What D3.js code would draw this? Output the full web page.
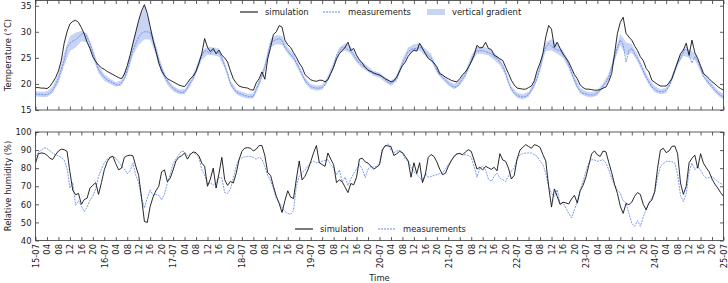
<!DOCTYPE html>
<meta charset="utf-8">
<script src="https://d3js.org/d3.v7.min.js"></script>
<style>
  body { margin: 0; background: #fff; }
  text { font-family: "DejaVu Sans", sans-serif; }
</style>
<div id="chart"></div>
<script>

// tick labels
var dayLabels = ["15-07","16-07","17-07","18-07","19-07","20-07","21-07","22-07","23-07","24-07","25-07"];
var hourLabels = ["04","08","12","16","20"];

// hourly values from 15-07 00:00 to 25-07 00:00
var simTemp = [
  19.3,19.3,19.2,19.2,19.1,19.5, 20.3,21.2,22.5,24.5,27.8,30.0, 31.5,32.0,32.2,31.8,30.8,29.6, 28.0,26.8,25.2,24.3,23.6,23.1,
  22.8,22.4,22.1,21.8,21.5,21.2, 21.0,21.9,23.5,25.5,27.8,30.0, 32.2,34.0,35.2,33.5,31.0,28.4, 26.3,24.0,22.5,21.6,21.0,20.7,
  20.4,20.1,19.8,19.6,19.5,20.2, 21.0,21.5,22.4,24.0,25.8,28.7, 27.0,26.2,26.8,25.8,26.5,25.5, 25.0,24.2,22.5,21.0,20.2,19.6,
  19.4,19.3,19.2,18.9,18.8,20.2, 21.0,22.3,20.9,24.8,27.0,29.5, 30.0,31.2,30.9,28.4,27.5,27.0, 26.0,25.1,24.0,23.2,21.8,21.3,
  20.8,20.6,20.5,20.7,20.7,20.4, 20.8,22.0,23.2,24.8,25.8,26.4, 27.0,28.0,26.4,26.8,25.5,24.6, 24.0,23.2,22.6,22.4,22.1,21.9,
  21.7,21.4,21.0,20.7,20.4,20.6, 21.3,22.5,23.5,24.2,25.3,26.0, 26.5,26.3,27.8,26.8,25.8,24.9, 24.5,24.0,23.3,22.0,21.7,21.3,
  21.0,20.7,20.5,20.4,21.0,21.8, 22.3,23.2,24.2,25.5,27.4,26.9, 27.0,28.0,26.8,26.6,25.5,25.2, 24.8,24.5,23.2,22.0,20.7,19.8,
  19.2,19.1,19.0,19.0,19.3,19.6, 20.6,22.6,24.0,25.8,29.0,31.2, 30.5,27.0,28.0,26.8,25.8,25.0, 24.2,23.0,21.8,21.0,19.8,19.3,
  19.0,19.0,18.9,18.8,18.8,18.9, 19.2,19.4,20.5,22.0,25.8,29.7, 31.8,32.8,29.7,29.0,28.4,27.3, 26.4,25.2,24.5,23.0,22.3,20.7,
  20.3,19.9,19.6,19.6,19.6,20.2, 21.0,22.6,24.2,25.8,26.5,27.8, 25.5,28.4,26.0,24.9,23.5,22.0, 21.5,21.0,20.4,20.0,19.5,19.1,
  18.8
];
var measTemp = [
  18.1,18.0,18.0,17.9,18.0,18.2, 18.8,19.8,21.0,22.8,24.5,27.0, 27.8,28.2,28.5,29.0,29.5,29.8, 29.0,27.8,26.0,24.2,22.8,22.0,
  21.3,20.8,20.5,20.2,19.9,19.7, 20.2,21.0,22.5,24.5,26.5,27.8, 29.0,29.7,30.0,30.0,29.8,28.4, 26.5,24.5,23.0,21.5,20.5,19.8,
  19.2,18.8,18.5,18.3,18.5,19.2, 20.2,21.0,22.5,24.0,25.4,26.4, 26.2,25.8,26.5,25.8,26.0,25.0, 23.5,22.0,20.1,19.2,18.5,18.2,
  18.0,17.8,17.6,17.5,17.6,19.0, 20.1,21.5,23.2,25.5,27.8,28.3, 28.5,28.7,28.3,27.0,26.3,25.6, 25.1,24.0,23.0,21.8,20.7,20.0,
  19.5,19.3,19.2,19.2,19.3,19.8, 21.0,22.0,23.5,25.5,26.4,27.0, 27.0,26.5,26.4,25.5,24.6,24.0, 23.5,23.2,22.8,22.3,22.0,21.8,
  21.7,21.3,20.8,20.3,20.1,20.5, 21.0,22.2,24.0,25.0,26.2,26.6, 26.8,26.8,27.0,26.8,26.0,25.5, 25.0,24.0,22.6,21.8,21.3,20.7,
  20.2,19.7,19.4,19.4,20.2,21.0, 21.8,23.0,24.5,25.8,26.4,26.3, 26.4,26.2,26.0,25.8,25.2,24.9, 24.2,23.6,22.0,20.1,19.0,18.2,
  17.8,17.6,17.5,17.6,18.0,18.8, 19.8,21.0,23.0,25.8,27.0,27.8, 27.2,26.8,26.5,26.4,25.6,24.8, 23.6,22.0,20.8,19.4,18.6,18.2,
  18.1,17.9,17.9,17.9,18.3,18.8, 19.6,20.3,21.3,23.2,25.1,27.0, 28.4,27.5,24.2,26.4,26.8,25.8, 24.9,23.8,22.5,21.3,20.4,19.4,
  19.0,18.6,18.5,18.5,18.8,19.5, 21.0,22.6,24.0,24.9,26.0,27.0, 25.5,24.0,25.2,24.5,23.0,21.3, 20.8,20.1,19.5,18.8,18.3,17.8,
  17.5
];
// vertical gradient envelope, every 2 hours
var gradLow = [
  17.6,17.5,17.5,18.3,20.2,23.5,26.3,27.0,28.2,28.0,25.0,22.0,
  20.6,20.0,19.5,19.7,21.8,25.5,27.5,28.5,28.5,25.5,22.0,19.8,
  18.6,18.0,18.0,19.6,21.8,24.6,25.6,25.5,25.2,23.0,19.6,18.0,
  17.5,17.2,17.2,19.5,22.6,27.0,27.6,27.5,25.8,24.5,22.4,20.2,
  19.0,18.7,18.9,20.5,23.0,25.8,26.4,25.8,24.1,23.0,22.3,21.5,
  21.2,20.3,19.6,20.5,23.4,25.7,26.2,26.4,25.4,24.4,22.1,20.8,
  19.7,19.0,19.7,21.3,24.0,25.8,25.8,25.5,24.6,23.6,21.5,18.6,
  17.3,17.0,17.5,19.3,22.4,26.3,26.4,25.8,25.0,23.0,20.2,18.1,
  17.6,17.4,17.8,19.1,20.7,24.4,27.4,25.5,26.0,24.3,21.9,19.8,
  18.4,18.0,18.2,20.4,23.4,25.4,25.0,24.6,22.4,20.3,19.0,17.8,
  17.0
];
var gradHigh = [
  18.6,18.5,18.6,19.5,22.0,26.0,29.2,29.8,30.2,29.6,26.8,23.5,
  21.8,21.0,20.3,20.7,23.5,28.0,32.2,35.0,31.0,27.5,23.6,21.0,
  19.6,19.0,19.0,20.8,23.2,26.2,27.2,27.0,26.8,24.2,20.6,19.0,
  18.5,18.1,18.2,20.8,24.0,28.6,29.4,29.2,27.0,25.8,23.6,21.2,
  20.0,19.7,19.8,21.6,24.2,27.0,27.8,27.2,25.3,24.2,23.4,22.5,
  22.2,21.3,20.6,21.6,24.8,27.0,27.6,27.8,26.8,25.8,23.2,21.8,
  20.7,20.0,20.8,22.5,25.4,27.2,27.2,26.8,26.0,24.9,22.6,19.6,
  18.3,18.0,18.5,20.5,23.8,28.0,28.6,27.6,26.4,24.4,21.5,19.2,
  18.6,18.4,18.8,20.2,22.0,26.0,29.6,28.0,27.6,25.6,23.2,21.0,
  19.6,19.0,19.3,21.6,24.8,26.8,26.6,26.0,23.6,21.4,20.1,18.8,
  18.0
];
var simRH = [
  82.8,88.0,88.4,88.2,87.2,85.5, 84.8,87.4,89.5,90.5,90.2,89.3, 78.0,67.8,65.3,66.0,60.0,62.6, 63.4,69.0,70.5,72.0,65.5,72.0,
  79.1,83.5,86.0,86.6,82.5,79.1, 80.0,86.0,86.9,87.2,86.8,81.0, 76.0,63.5,50.5,50.0,58.8,64.0, 67.5,70.0,78.0,79.0,72.5,74.5,
  79.0,84.0,86.0,86.9,88.4,85.0, 87.5,89.0,88.5,86.8,82.8,81.0, 70.0,74.0,80.0,69.0,77.0,86.0, 73.6,70.5,72.7,71.8,77.0,84.7,
  89.3,91.1,91.3,91.1,89.5,90.5, 92.5,92.5,87.0,77.5,76.0,70.0, 64.5,60.5,55.5,62.0,67.5,64.0, 63.2,74.0,84.0,73.5,75.5,79.0,
  83.5,88.5,92.5,83.0,82.0,81.0, 88.4,85.0,82.0,72.0,73.5,72.5, 69.5,66.5,71.5,70.8,75.0,85.0, 85.5,83.5,82.8,81.0,79.5,80.5,
  81.9,90.0,92.5,92.3,92.0,87.0, 88.0,89.3,88.6,86.5,84.0,75.0, 83.0,77.0,83.0,72.0,76.5,86.0, 87.5,86.5,83.5,79.5,76.4,77.2,
  81.0,84.0,86.5,87.8,88.2,87.4, 89.0,90.2,89.3,84.5,79.5,80.5, 79.0,81.0,80.2,79.3,80.5,78.5, 88.0,84.5,83.8,80.0,74.0,76.0,
  85.0,90.0,91.5,93.0,92.0,91.0, 93.0,92.5,91.5,87.5,84.0,70.0, 58.5,68.5,64.4,60.0,61.2,60.8, 60.2,63.0,65.0,60.7,67.5,70.5,
  75.0,81.5,88.0,89.5,87.4,86.5, 89.5,89.0,83.0,77.5,71.0,66.0, 59.0,55.0,60.5,59.8,61.2,64.5, 66.5,65.5,60.0,57.0,60.7,62.4,
  67.0,80.0,90.0,91.0,88.6,89.5, 92.0,92.3,88.0,71.8,65.5,70.0, 83.0,85.5,87.2,80.0,88.0,82.8, 80.2,78.0,74.0,71.2,69.0,66.5,
  64.4
];
var measRH = [
  86.5,88.6,90.0,91.2,91.0,89.6, 88.3,87.4,86.8,86.0,84.5,80.0, 69.0,72.0,59.5,62.0,59.0,56.0, 58.5,62.3,64.5,68.5,75.5,79.5,
  82.8,85.0,86.0,86.5,85.5,83.5, 81.0,79.5,77.0,78.5,83.0,76.0, 72.0,63.5,58.0,63.5,68.0,65.0, 65.5,65.0,62.5,65.5,72.0,76.4,
  82.5,85.0,87.5,89.5,89.0,87.0, 88.0,88.7,87.5,86.0,79.1,76.2, 71.0,72.0,70.5,72.0,75.0,74.5, 66.5,66.0,68.5,74.5,81.0,84.7,
  85.8,86.3,86.4,86.5,86.0,85.0, 86.0,85.0,81.0,76.0,73.0,68.5, 63.4,61.0,58.5,56.0,55.0,54.5, 56.5,70.0,75.5,77.3,79.0,81.0,
  83.0,83.8,83.0,83.2,83.8,84.2, 84.7,82.0,80.0,76.4,79.0,72.5, 75.0,70.5,74.0,77.0,79.5,81.9, 79.5,74.8,79.5,81.0,80.5,81.0,
  82.8,90.5,92.0,93.5,90.0,88.5, 89.5,90.0,88.4,85.0,84.0,80.5, 78.0,76.5,75.0,72.8,77.0,75.0, 75.4,76.0,76.4,77.0,77.3,79.5,
  82.0,84.2,86.5,88.2,88.0,87.4, 87.4,87.0,86.0,81.0,75.0,80.0, 81.0,79.0,74.0,72.7,75.5,77.3, 74.5,73.6,72.7,75.5,78.5,80.0,
  85.0,87.4,88.0,88.4,88.4,88.4, 87.5,86.5,84.0,82.0,77.3,70.0, 66.0,64.4,68.0,60.0,60.7,58.0, 55.0,52.5,57.0,61.6,68.0,72.7,
  78.0,83.0,84.7,84.5,83.8,84.2, 84.7,82.8,79.0,74.5,70.5,68.0, 66.2,62.0,60.7,55.0,49.5,47.8, 51.0,47.8,53.0,57.0,61.0,63.5,
  66.5,75.0,81.0,82.5,83.8,83.8, 83.5,82.8,76.5,65.0,61.5,66.0, 78.0,82.8,79.1,81.0,79.0,76.0, 74.5,74.8,75.4,74.0,72.5,71.5,
  70.8
];

var width = 728, height = 283;
var left = 35.5, right = 723.5;
var blue = "#4f78ea";
var bandColor = "#7d98ea";

var svg = d3.select("#chart").append("svg")
  .attr("width", width)
  .attr("height", height);

var x = d3.scaleLinear().domain([0, 240]).range([left, right]);
var yT = d3.scaleLinear().domain([15, 36]).range([110, 0.5]);
var yH = d3.scaleLinear().domain([40, 100]).range([240.5, 132]);

var hours = d3.range(0, 241);
var gradHours = d3.range(0, 241, 2);
var tickHours = d3.range(0, 241, 4);

function tickLabel(h) {
  if (h % 24 === 0) return dayLabels[h / 24];
  return hourLabels[(h % 24) / 4 - 1];
}

function drawFrame(y, top, bottom, yTicks, withLabels) {
  var g = svg.append("g");

  // bottom axis, labels turned upright
  var bx = g.append("g")
    .attr("transform", "translate(0," + bottom + ")")
    .call(d3.axisBottom(x).tickValues(tickHours).tickSize(-3.5)
      .tickFormat(withLabels ? tickLabel : ""));
  bx.selectAll("text")
    .attr("transform", "rotate(-90)")
    .attr("x", -3.5).attr("y", 0).attr("dy", "0.33em")
    .style("text-anchor", "end");

  // top axis
  g.append("g")
    .attr("transform", "translate(0," + top + ")")
    .call(d3.axisTop(x).tickValues(tickHours).tickSize(-3.5).tickFormat(""));

  // left axis
  g.append("g")
    .attr("transform", "translate(" + left + ",0)")
    .call(d3.axisLeft(y).tickValues(yTicks).tickSize(-3.5).tickPadding(4));

  // right axis
  g.append("g")
    .attr("transform", "translate(" + right + ",0)")
    .call(d3.axisRight(y).tickValues(yTicks).tickSize(-3.5).tickFormat(""));

  g.selectAll(".domain").remove();
  g.selectAll(".tick line").attr("stroke", "#333").attr("stroke-width", 0.8);
  g.selectAll(".tick text").style("font-size", "8.4px").attr("fill", "#222");

  svg.append("rect")
    .attr("x", left).attr("y", top)
    .attr("width", right - left).attr("height", bottom - top)
    .attr("fill", "none").attr("stroke", "#333").attr("stroke-width", 0.8);
}

// clip for plot areas
svg.append("clipPath").attr("id", "clipT").append("rect")
  .attr("x", left).attr("y", 0.5).attr("width", right - left).attr("height", 109.5);
svg.append("clipPath").attr("id", "clipH").append("rect")
  .attr("x", left).attr("y", 132).attr("width", right - left).attr("height", 108.5);

// temperature panel
var gT = svg.append("g").attr("clip-path", "url(#clipT)");

gT.append("path")
  .datum(gradHours)
  .attr("fill", bandColor)
  .attr("fill-opacity", 0.42)
  .attr("d", d3.area()
    .x(function(d) { return x(d); })
    .y0(function(d, i) { return yT(gradLow[i]); })
    .y1(function(d, i) { return yT(gradHigh[i]); }));

gT.append("path")
  .datum(hours)
  .attr("fill", "none")
  .attr("stroke", blue)
  .attr("stroke-width", 0.75)
  .attr("stroke-dasharray", "2,1")
  .attr("d", d3.line().x(function(d) { return x(d); }).y(function(d, i) { return yT(measTemp[i]); }));

gT.append("path")
  .datum(hours)
  .attr("fill", "none")
  .attr("stroke", "#111")
  .attr("stroke-width", 0.9)
  .attr("d", d3.line().x(function(d) { return x(d); }).y(function(d, i) { return yT(simTemp[i]); }));

// humidity panel
var gH = svg.append("g").attr("clip-path", "url(#clipH)");

gH.append("path")
  .datum(hours)
  .attr("fill", "none")
  .attr("stroke", blue)
  .attr("stroke-width", 0.75)
  .attr("stroke-dasharray", "2,1")
  .attr("d", d3.line().x(function(d) { return x(d); }).y(function(d, i) { return yH(measRH[i]); }));

gH.append("path")
  .datum(hours)
  .attr("fill", "none")
  .attr("stroke", "#111")
  .attr("stroke-width", 0.9)
  .attr("d", d3.line().x(function(d) { return x(d); }).y(function(d, i) { return yH(simRH[i]); }));

drawFrame(yT, 0.5, 110, [15, 20, 25, 30, 35], false);
drawFrame(yH, 132, 240.5, [40, 50, 60, 70, 80, 90, 100], true);

// axis titles
svg.append("text")
  .attr("transform", "translate(11," + 55 + ") rotate(-90)")
  .attr("text-anchor", "middle")
  .style("font-size", "8.4px")
  .attr("fill", "#222")
  .text("Temperature (°C)");

svg.append("text")
  .attr("transform", "translate(11," + 186 + ") rotate(-90)")
  .attr("text-anchor", "middle")
  .style("font-size", "8.4px")
  .attr("fill", "#222")
  .text("Relative humidity (%)");

svg.append("text")
  .attr("x", (left + right) / 2)
  .attr("y", 281)
  .attr("text-anchor", "middle")
  .style("font-size", "8.4px")
  .attr("fill", "#222")
  .text("Time");

// legends
function legendLine(g, x0, y0, color, dash, label) {
  g.append("line")
    .attr("x1", x0).attr("x2", x0 + 18)
    .attr("y1", y0).attr("y2", y0)
    .attr("stroke", color).attr("stroke-width", dash ? 0.9 : 1.1)
    .attr("stroke-dasharray", dash ? "2,1" : null);
  g.append("text")
    .attr("x", x0 + 25).attr("y", y0 + 3)
    .style("font-size", "8.4px").attr("fill", "#222")
    .text(label);
}

var legT = svg.append("g");
legendLine(legT, 240, 12, "#111", false, "simulation");
legendLine(legT, 323, 12, blue, true, "measurements");
legT.append("rect")
  .attr("x", 427).attr("y", 9).attr("width", 18).attr("height", 6)
  .attr("fill", bandColor).attr("fill-opacity", 0.42);
legT.append("text")
  .attr("x", 452).attr("y", 15)
  .style("font-size", "8.4px").attr("fill", "#222")
  .text("vertical gradient");

var legH = svg.append("g");
legendLine(legH, 295, 229, "#111", false, "simulation");
legendLine(legH, 378, 229, blue, true, "measurements");

</script>
